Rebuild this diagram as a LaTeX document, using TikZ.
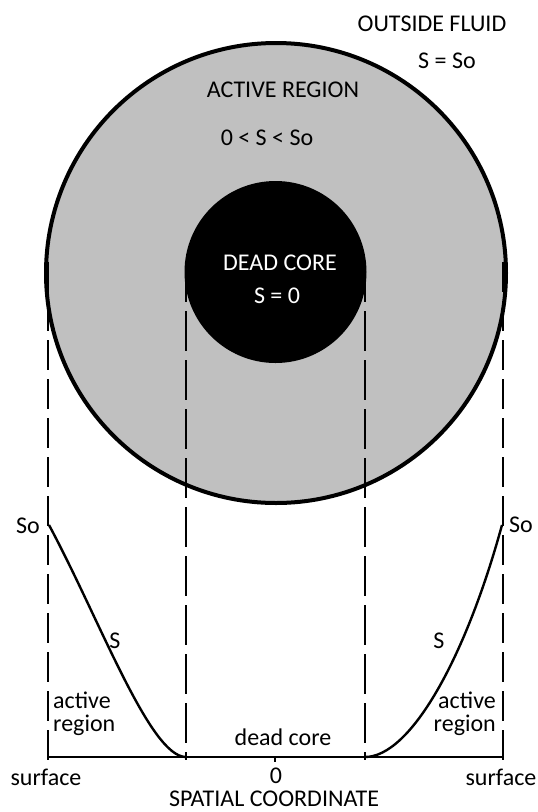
\documentclass[tikz,border=0pt]{standalone}
\usepackage{fontspec}
\setmainfont{Carlito}
\definecolor{activegray}{RGB}{192,192,192}
\begin{document}
\begin{tikzpicture}[x=1pt,y=-1pt,
  lbl/.style={font=\fontsize{24}{28}\selectfont, inner sep=0pt, anchor=base},
  wlbl/.style={lbl, text=white},
  guide/.style={line width=2.6pt, dash pattern=on 30pt off 9pt},
  innerguide/.style={line width=2.6pt, dash pattern=on 40pt off 9pt},
  profile/.style={line width=2.4pt},
  axisline/.style={line width=2.2pt}]
\useasboundingbox (0,0) rectangle (538,812);
% circles
\filldraw[fill=activegray, draw=black, line width=4pt] (276,273) circle [radius=230];
\fill[black] (275.5,272) circle [radius=91];
% coordinates
\coordinate (ltop) at (48,262);
\coordinate (rtop) at (503,262);
\coordinate (cltop) at (186,262);
\coordinate (crtop) at (365,262);
\coordinate (lbot) at (48,762);
\coordinate (rbot) at (503,762);
\coordinate (clbot) at (186,760);
\coordinate (crbot) at (365,760);
\coordinate (axl) at (48,757);
\coordinate (axr) at (503,757);
\coordinate (zt) at (275,757);
\coordinate (zb) at (275,762);
\coordinate (lso) at (49,525);
\coordinate (rso) at (502,525);
\coordinate (lcore) at (186,757);
\coordinate (rcore) at (365,757);
% dashed guide lines
\draw[guide] (ltop) -- (lbot);
\draw[guide] (rtop) -- (rbot);
\draw[innerguide] (cltop) -- (clbot);
\draw[innerguide] (crtop) -- (crbot);
% axis
\draw[axisline] (axl) -- (axr);
\draw[axisline] (zt) -- (zb);
% profile curves
\draw[profile] (lso) .. controls (100,620) and (150,757) .. (lcore);
\draw[profile] (rcore) .. controls (410,757) and (465,660) .. (rso);
% labels
\node[lbl] (outside) at (432,31) {OUTSIDE FLUID};
\node[lbl] (sso) at (447,68) {S = So};
\node[lbl] (active) at (283,97) {ACTIVE REGION};
\node[lbl] (ineq) at (267,145) {0 < S < So};
\node[wlbl] (dead) at (280,270) {DEAD CORE};
\node[wlbl] (szero) at (277,303) {S = 0};
\node[lbl] (sol) at (28,533) {So};
\node[lbl] (sor) at (521,532) {So};
\node[lbl] (sl) at (115,648) {S};
\node[lbl] (sr) at (439,648) {S};
\node[lbl, anchor=base west] (actl) at (53,708) {active};
\node[lbl, anchor=base west] (regl) at (53,731) {region};
\node[lbl, anchor=base east] (actr) at (496,708) {active};
\node[lbl, anchor=base east] (regr) at (496,731) {region};
\node[lbl] (deadc) at (283,745) {dead core};
\node[lbl] (surfl) at (46,785) {surface};
\node[lbl] (surfr) at (501,785) {surface};
\node[lbl] (zero) at (276,783) {0};
\node[lbl] (spatial) at (274,806) {SPATIAL COORDINATE};
\end{tikzpicture}
\end{document}
